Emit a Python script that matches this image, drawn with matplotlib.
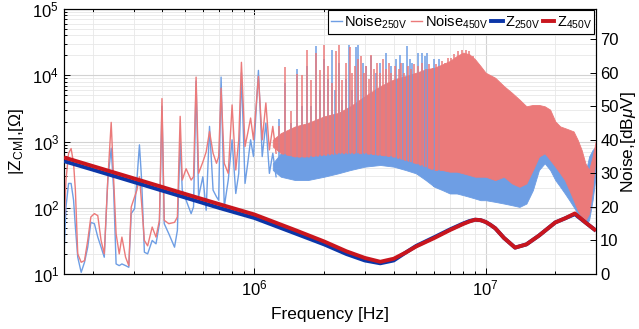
import numpy as np
import matplotlib
matplotlib.use("Agg")
import matplotlib.pyplot as plt
from matplotlib.lines import Line2D
from matplotlib.ticker import NullFormatter, LogLocator, FixedLocator

plt.rcParams['font.family'] = ['Liberation Sans', 'DejaVu Sans']
plt.rcParams['mathtext.fontset'] = 'custom'
plt.rcParams['mathtext.rm'] = 'Liberation Sans'
plt.rcParams['mathtext.it'] = 'Liberation Sans:italic'
plt.rcParams['mathtext.bf'] = 'Liberation Sans:bold'

# ---------------- data ----------------
# CM impedance |Z_CM| [Ohm]
z_freq = [1.5e5, 2e5, 3e5, 5e5, 7e5, 1e6, 1.5e6, 2e6, 2.5e6, 3e6, 3.5e6, 4e6, 4.5e6,
          5e6, 6e6, 7e6, 8e6, 8.5e6, 9e6, 9.5e6, 1e7, 1.05e7, 1.1e7, 1.2e7, 1.34e7,
          1.5e7, 1.7e7, 2e7, 2.2e7, 2.43e7, 2.7e7, 3e7]
z_250 = [505, 375, 245, 143, 100, 70, 41, 28, 20, 16, 14.5, 16, 21,
         26.5, 36, 47, 58, 63, 66, 65, 61, 55, 49, 35, 25,
         28, 38, 60, 69, 80, 60, 45]
z_450 = [575, 425, 278, 162, 114, 79, 46, 31, 22, 17.5, 15.3, 17, 21,
         26, 35, 46, 57, 62, 66, 65, 61, 55, 49, 35, 25,
         28, 38, 60, 69, 82, 60, 45]

# Noise, low-frequency trace [dBuV]
low_freq = [1.50e5, 1.53e5, 1.57e5, 1.61e5, 1.65e5, 1.68e5, 1.72e5, 1.78e5, 1.84e5, 1.90e5,
            1.96e5, 2.03e5, 2.10e5, 2.17e5, 2.24e5, 2.32e5, 2.40e5, 2.46e5, 2.52e5, 2.60e5,
            2.67e5, 2.77e5, 2.86e5, 2.93e5, 3.03e5, 3.10e5, 3.18e5, 3.25e5, 3.34e5, 3.45e5,
            3.61e5, 3.75e5, 3.88e5, 3.98e5, 4.07e5, 4.26e5, 4.51e5, 4.64e5, 4.77e5, 4.87e5,
            5.06e5, 5.32e5, 5.45e5, 5.59e5, 5.73e5, 5.98e5, 6.18e5, 6.39e5, 6.62e5, 6.85e5,
            7.00e5, 7.17e5, 7.40e5, 7.70e5, 8.00e5, 8.30e5, 8.55e5, 8.78e5, 9.10e5, 9.35e5,
            9.62e5, 9.90e5, 1.04e6, 1.08e6, 1.12e6, 1.16e6, 1.20e6, 1.24e6]
low_450 = [14, 28, 36, 37.4, 33, 25, 6, 3.5, 4, 10,
           17, 18, 17.4, 10, 6, 28, 45.2, 28, 12, 6,
           11, 5, 2.5, 20, 23, 25, 29, 21, 10, 8.4,
           14, 11, 16, 52.3, 16, 15, 15.4, 17, 47, 28,
           31.4, 28, 29, 58.7, 30, 33.4, 36.4, 42.5, 36, 33,
           35, 55.4, 33, 30, 50.4, 31, 40, 63.1, 38, 42,
           46.5, 40, 58.9, 40, 51, 37, 44, 36]
low_250 = [6, 20, 27, 27, 22, 14, 5, 0.5, 3.5, 8,
           15.4, 15, 11, 8, 5, 28, 37.5, 25, 3, 2.5,
           3, 2.5, 2, 18, 19.5, 28, 38.5, 28, 6.5, 6,
           10, 9, 15, 50, 15, 12, 8, 13, 40, 25,
           22, 18, 20, 57.5, 23, 29, 19, 44, 25, 23,
           22, 58.7, 20, 28, 40, 24, 30, 60, 27, 33,
           40, 35, 60.7, 35, 45, 30, 36, 29]

# Noise, dense high-frequency band: lower / upper envelope [dBuV]
band_freq = [1.2e6, 1.3e6, 1.5e6, 1.7e6, 2e6, 2.3e6, 2.6e6, 3e6, 3.5e6, 4e6, 4.5e6,
             5e6, 5.5e6, 6e6, 6.5e6, 7e6, 7.5e6, 8e6, 8.5e6, 9e6, 9.5e6, 1e7, 1.1e7,
             1.2e7, 1.3e7, 1.4e7, 1.5e7, 1.6e7, 1.7e7, 1.8e7, 1.9e7, 2e7, 2.1e7, 2.2e7,
             2.3e7, 2.4e7, 2.5e7, 2.6e7, 2.7e7, 2.8e7, 2.9e7, 3e7]
band_450_lo = [38, 36, 35, 35, 35.5, 36, 36, 36, 35.5, 35, 34,
               33, 32, 31, 31, 30.5, 30.5, 30, 29.5, 29, 29, 29, 28,
               29, 27, 26, 27, 31, 35, 36, 34, 32, 30, 28,
               25, 22, 19, 17, 16, 18, 26, 36]
band_450_hi = [40, 42, 44, 45, 47, 48, 50, 53, 56, 58, 59,
               60, 61, 61.5, 62.5, 63.5, 65, 66, 65.5, 64, 62, 60, 58.5,
               56, 54, 52, 50, 50.4, 50.4, 50, 49, 45.5, 44, 43.5,
               43, 42.5, 40, 37, 33, 31, 35, 40]
band_250_lo = [31, 29, 28, 28, 29, 30, 31, 32, 32.5, 32, 31,
               30, 28, 26, 25, 24, 24, 23.5, 23, 22.5, 22, 22, 21.5,
               21, 20.5, 20, 21, 25, 31, 33, 31, 28, 26, 24,
               22, 20, 18, 16, 15, 16, 22, 30]
band_250_hi = [33, 36, 38, 38, 39, 40, 41, 43, 45, 47, 49,
               50, 50, 50, 51, 52, 53, 54, 53, 52, 50, 48, 46,
               44, 41, 38, 36, 38, 40, 40, 39, 38, 36, 35,
               33, 30, 28, 26, 30, 35, 37, 38]

# Harmonic spikes on top of the dense band [Hz], [dBuV]
spk_450_f = [1.28e6, 1.36e6, 1.44e6, 1.52e6, 1.60e6, 1.68e6, 1.76e6, 1.84e6, 1.92e6,
             2.00e6, 2.08e6, 2.16e6, 2.26e6, 2.32e6, 2.40e6, 2.48e6, 2.59e6, 2.64e6, 2.72e6,
             2.80e6, 2.90e6, 2.98e6, 3.05e6, 3.12e6, 3.20e6, 3.30e6, 3.40e6, 3.50e6, 3.60e6,
             3.70e6, 3.80e6, 3.90e6, 4.05e6, 4.20e6, 4.30e6, 4.45e6, 4.60e6, 4.75e6, 4.90e6,
             5.10e6, 5.30e6, 5.50e6, 5.70e6, 5.90e6, 6.10e6, 6.30e6, 6.50e6, 6.70e6, 6.90e6,
             7.10e6, 7.30e6, 7.60e6, 7.90e6, 8.20e6, 8.50e6, 8.80e6]
spk_450_db = [44, 61.7, 48.5, 59.7, 59.4, 66.9, 57.9, 66, 60.9,
              68.4, 61.9, 57, 66.4, 68.4, 57.9, 63, 67.8, 59.9, 62,
              64, 65, 60, 62, 58, 65.4, 61, 63, 60, 64,
              61, 63, 60, 62, 61, 63, 60, 62, 61, 62.5,
              62, 63, 61, 62.5, 61.5, 62.5, 62, 63.5, 63, 64.5,
              64.5, 65.5, 66.5, 66.8, 66.8, 66.5, 65]
spk_250_f = [1.28e6, 1.36e6, 1.44e6, 1.52e6, 1.60e6, 1.68e6, 1.76e6, 1.84e6, 1.92e6,
             2.00e6, 2.08e6, 2.17e6, 2.24e6, 2.32e6, 2.40e6, 2.48e6, 2.56e6, 2.64e6, 2.75e6,
             2.80e6, 2.94e6, 3.05e6, 3.20e6, 3.35e6, 3.50e6, 3.69e6, 3.90e6, 4.10e6, 4.27e6,
             4.40e6, 4.55e6, 4.70e6, 4.80e6, 5.10e6, 5.30e6, 5.45e6, 5.60e6, 6.00e6, 6.30e6]
spk_250_db = [46.2, 57, 45, 61.1, 50, 62, 50, 67.9, 55,
              64, 58, 66.9, 55, 63, 52, 58, 68.4, 55, 67.8,
              68.4, 63, 62, 65, 60, 63, 65.9, 62, 64, 65.4,
              63, 67.9, 64, 63, 66, 66, 65, 66, 64, 64]

# ---------------- styling ----------------
c_n250 = '#6E9EE4'
c_n450 = '#EB7A7A'
c_z250 = '#0B36A8'
c_z450 = '#C9161E'

fig = plt.figure(figsize=(6.39, 3.29), dpi=100)
ax = fig.add_axes([64/639, 1-274/329, 532/639, 265/329])
ax.set_xscale('log')
ax.set_yscale('log')
ax.set_xlim(1.5e5, 3e7)
ax.set_ylim(10, 1e5)
ax.grid(True, which='major', color='#D2D2D2', lw=0.8)
ax.grid(True, which='minor', color='#E8E8E8', lw=0.6)
ax.set_axisbelow(True)
ax.xaxis.set_minor_formatter(NullFormatter())
ax.yaxis.set_minor_locator(LogLocator(base=10, subs=np.arange(2, 10)))
ax.yaxis.set_minor_formatter(NullFormatter())
ax.tick_params(which='both', direction='in', top=True, right=False, labelsize=12, width=0.7)
ax.tick_params(which='major', length=4)
ax.tick_params(which='minor', length=2.2)
for s in ax.spines.values():
    s.set_linewidth(0.8)

ax2 = ax.twinx()
ax2.set_ylim(0, 79)
ax2.yaxis.set_major_locator(FixedLocator([0, 10, 20, 30, 40, 50, 60, 70]))
ax2.tick_params(which='both', direction='in', labelsize=12, length=4, width=0.7, pad=3)

# noise 250V
ax2.fill_between(band_freq, band_250_lo, band_250_hi, color=c_n250, lw=0.6, edgecolor=c_n250)
ax2.vlines(spk_250_f, np.interp(np.log10(spk_250_f), np.log10(band_freq), band_250_lo),
           spk_250_db, color=c_n250, lw=1.1)
ax2.plot(low_freq, low_250, color=c_n250, lw=1.0)
# noise 450V
ax2.fill_between(band_freq, band_450_lo, band_450_hi, color=c_n450, lw=0.6, edgecolor=c_n450)
ax2.vlines(spk_450_f, np.interp(np.log10(spk_450_f), np.log10(band_freq), band_450_lo),
           spk_450_db, color=c_n450, lw=1.1)
ax2.plot(low_freq, low_450, color=c_n450, lw=1.0)

ax3 = ax.twinx()
ax3.set_yscale('log')
ax3.set_ylim(10, 1e5)
ax3.axis('off')
ax3.plot(z_freq, z_250, color=c_z250, lw=2.8, solid_capstyle='butt')
ax3.plot(z_freq, z_450, color=c_z450, lw=2.8, solid_capstyle='butt')

ax.set_xlabel('Frequency [Hz]', fontsize=12.5)
ax.set_ylabel(r'|Z$_{\mathregular{CM}}$|,[Ω]', fontsize=12.5)
ax2.set_ylabel(r'Noise,[dB$\mu$V]', fontsize=12.5)
ax.xaxis.set_label_coords(0.5, -0.125)
ax.yaxis.set_label_coords(-0.072, 0.5)
ax2.yaxis.set_label_coords(1.043, 0.5)

handles = [Line2D([], [], color=c_n250, lw=1.0),
           Line2D([], [], color=c_n450, lw=1.0),
           Line2D([], [], color=c_z250, lw=2.8),
           Line2D([], [], color=c_z450, lw=2.8)]
labels = [r'Noise$_{\mathregular{250V}}$', r'Noise$_{\mathregular{450V}}$',
          r'Z$_{\mathregular{250V}}$', r'Z$_{\mathregular{450V}}$']
leg = ax3.legend(handles, labels, loc='upper right', bbox_to_anchor=(0.997, 0.995),
                 ncol=4, fontsize=10.5, frameon=True, fancybox=False, framealpha=1,
                 edgecolor='black', handlelength=0.8, handletextpad=0.15,
                 columnspacing=0.2, borderpad=0.2, borderaxespad=0)
leg.get_frame().set_linewidth(0.8)

fig.savefig('out.png', dpi=100)
